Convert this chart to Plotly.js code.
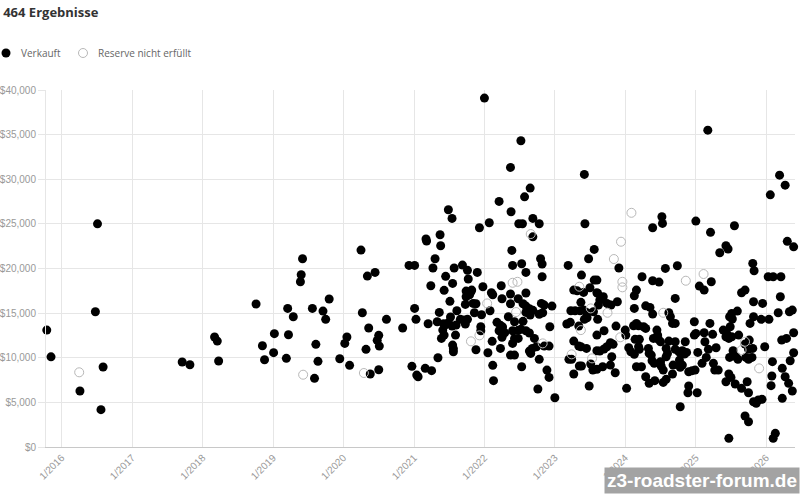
<!DOCTYPE html>
<html>
<head>
<meta charset="utf-8">
<script src="https://cdn.plot.ly/plotly-3.0.1.min.js"></script>
<style>html,body{margin:0;padding:0;background:#fff;}#chart{width:800px;height:494px;}</style>
</head>
<body>
<div id="chart"></div>
<script>
// Sale dates as decimal years, prices in USD
const soldYear = [
2015.79,2015.85,2016.26,2016.51,2016.48,2016.59,2016.56,2017.71,2017.82,2018.17,2018.21,2018.23,2018.76,2018.85,2018.88,
2019.02,2019.01,2019.19,2019.21,2019.29,2019.22,2019.42,2019.40,2019.39,2019.56,2019.61,2019.64,2019.59,2019.71,2019.75,2019.80,2019.95,
2020.02,2020.05,2020.09,2020.25,2020.27,2020.36,2020.32,2020.38,2020.34,2020.45,2020.50,2020.48,2020.51,2020.50,2020.61,2020.84,2020.93,
2021.01,2021.01,2021.03,2020.97,2021.04,2021.06,
2022.00,2022.21,2021.49,2021.54,2021.93,2022.07,2021.17,2021.18,2021.37,2021.38,2021.30,2021.27,2021.24,2021.45,2021.55,2021.43,2021.57,
2021.69,2021.76,2021.77,2021.90,2021.98,2022.10,2022.12,2022.24,2022.25,2021.51,2021.74,2021.81,2021.74,2021.79,2021.82,2021.73,2021.84,
2021.88,2022.08,2021.96,2021.95,2021.95,2021.86,2021.20,2021.36,2021.33,2021.42,2021.44,2021.49,2021.52,2021.61,2021.54,2021.60,2021.66,
2021.71,2021.76,2021.73,2021.41,2021.39,2021.43,2021.59,2021.55,2021.56,2021.56,2021.34,2021.16,2021.25,2021.88,2022.05,2022.11,2022.12,
2022.13,2022.23,2022.18,2022.23,2022.26,2022.21,2022.25,
2022.52,2022.37,2022.65,2022.57,2022.38,2022.69,2022.49,2022.54,2022.78,2022.69,2022.39,2022.40,2022.53,2022.59,2022.80,2022.82,2022.82,
2022.37,2022.59,2022.37,2022.48,2022.55,2022.59,2022.64,2022.69,2022.65,2022.59,2022.81,2022.85,2022.96,2022.83,2022.78,2022.34,2022.43,
2022.55,2022.29,2022.40,2022.48,2022.52,2022.59,2022.64,2022.43,2022.40,2022.48,2022.71,2022.74,2022.68,2022.64,2022.66,2022.93,2022.85,
2022.92,2022.37,2022.43,2022.53,2022.78,2022.89,2022.92,2022.76,2023.00,
2023.42,2023.43,2023.56,2023.48,2023.19,2023.38,2023.27,2023.32,2023.41,2023.50,2023.56,2023.60,2023.60,2023.37,2023.23,2023.29,2023.36,
2023.41,2023.46,2023.55,2023.42,2023.46,2023.17,2023.22,2023.34,2023.60,2023.27,2023.34,2023.37,2023.45,2023.60,2023.20,2023.24,2023.38,
2023.35,2023.51,2023.54,2023.27,2023.49,
2024.52,2024.53,2024.39,2025.00,2023.91,2024.57,2024.74,2024.24,2024.39,2024.48,2025.05,2024.16,2024.13,2024.71,2023.61,2023.69,2023.64,
2023.74,2023.80,2023.89,2023.62,2023.61,2024.13,2024.29,2024.35,2024.39,2024.62,2024.64,2024.67,2024.71,2024.98,2023.87,2024.12,2024.16,
2024.19,2024.26,2024.29,2024.00,2024.01,2023.70,2024.45,2024.46,2024.40,2024.47,2024.50,2024.14,2024.20,2024.62,2024.71,2024.85,2024.98,
2025.00,2023.79,2023.83,2023.74,2023.70,2024.05,2024.08,2024.13,2024.20,2024.19,2024.33,2024.34,2024.37,2024.58,2024.60,2024.58,2024.71,
2024.76,2024.81,2024.84,2024.87,2023.64,2023.81,2024.16,2024.23,2024.38,2024.41,2024.50,2024.51,2024.54,2024.68,2024.77,2024.78,2024.81,
2023.79,2023.68,2023.60,2023.86,2024.29,2024.34,2024.42,2024.54,2024.58,2024.67,2024.02,2024.90,2024.95,2024.99,2024.90,2024.89,2025.02,
2024.78,
2025.17,2026.19,2026.27,2026.06,2025.21,2025.55,2025.43,2025.46,2025.34,2026.30,2026.39,2025.81,2025.83,2026.03,2026.10,2026.21,2025.12,
2025.22,2025.65,2025.70,2026.20,2025.82,2025.95,2025.51,2025.59,2025.48,2025.52,2025.77,2025.82,2025.93,2026.04,2026.17,2026.33,2026.37,
2025.20,2025.12,2025.24,2025.39,2025.44,2025.49,2025.43,2025.47,2025.51,2025.61,2025.70,2025.76,2025.75,2025.13,2025.18,2025.29,2025.03,
2025.15,2025.09,2025.25,2025.27,2025.32,2025.48,2025.53,2025.57,2025.60,2025.71,2025.75,2025.80,2025.81,2025.98,2026.22,2026.29,2026.39,
2026.09,2026.34,2026.39,2026.08,2026.07,2026.23,2026.27,2026.32,2026.23,2026.37,2025.47,2025.50,2025.56,2025.65,2025.73,2025.75,2025.43,
2025.82,2025.89,2025.86,2025.94,2025.70,2025.75,2025.47,2026.13,2026.10
];
const soldPrice = [
13100,10100,6270,25000,15150,8960,4180,9520,9220,12320,11870,9630,16020,11350,9780,
12700,10570,9930,15530,14600,12580,21090,19300,18510,15530,11500,9600,7690,15230,14300,16580,9890,
11610,12320,9150,22060,15040,13330,10940,8180,19150,19560,12510,11950,11310,8660,14300,13330,20350,
20350,15530,14300,9040,8060,7870,
39090,27520,26580,25610,24570,25120,23300,23070,23780,22550,21090,20050,18070,19120,18330,17550,20050,
20380,19790,18820,19560,17960,17280,17060,18070,16610,16320,17470,17390,16830,17060,17580,15980,16090,
16050,15270,14820,13470,13030,15040,13810,15080,14030,13810,13660,13920,14560,15270,13550,13660,14300,
14220,14300,13780,13100,12170,12540,12540,11420,11010,10670,10000,8810,8550,10900,10560,11840,9150,
7430,11050,13970,13630,13440,13030,12290,
34310,31330,29010,28030,26360,25610,25010,25010,25010,23550,22030,20350,20530,19560,21090,20500,19070,
17140,17250,16050,16610,16050,15790,15490,15310,14780,15080,16090,15900,15790,15040,14860,14600,14030,
14080,12800,13030,13070,13180,13030,12770,12170,11610,12170,12170,11230,11050,10750,10490,13470,11310,
11310,10300,10300,8990,9820,8620,7800,6500,5520,
30540,25010,22140,21090,20350,19260,17580,17500,17320,17840,18700,18700,17280,16210,15270,15270,15270,
15340,15040,15150,14300,14480,13780,13970,13550,12540,11870,11310,11230,11050,10790,9820,9820,9070,
9070,9300,8620,8180,6830,
25800,25050,24570,25310,20050,20010,20310,19070,18630,18480,18030,17580,16950,16650,17210,16830,16460,
16090,15900,16270,15900,14300,15530,15820,15640,14890,15040,14600,13850,13850,14030,13550,13590,13850,
13590,13470,13290,13100,12540,13030,13100,12540,12170,12060,11790,12060,12060,11870,11790,11790,12540,
12730,11680,11500,11230,10980,11120,10670,10380,10940,11230,11050,10490,10300,11050,10490,10110,10940,
10670,10790,10420,10600,10750,10110,8990,8990,9670,9370,9560,9070,8620,9180,9740,8930,9180,
9180,8990,8700,8320,7870,7130,7430,7240,7580,8180,6570,8430,8550,8620,6830,6080,6080,
4510,
35500,30460,29340,28250,24050,24790,22550,22180,21760,23040,22430,20570,19750,19070,19070,19070,17580,
18510,17280,17580,16830,16270,16090,14970,15230,14600,14340,13850,14600,14300,14300,15040,15150,15340,
13850,12800,12620,13100,12730,13470,12350,12170,12350,12540,11530,11980,10940,11790,10940,11120,10600,
10040,9370,9370,8620,8620,10040,10790,10110,9820,10040,9820,10040,11050,11230,11980,12170,12800,
9560,9670,10560,7950,6870,8810,7870,7130,5450,6270,8180,7800,7060,6570,7310,6080,7310,
5070,5260,4890,5340,3470,2830,970,1530,970
];
// Reserve not met
const reserveYear = [2016.25,2019.43,2020.29,2022.04,2021.81,2021.93,2022.66,2022.40,2022.47,2022.45,2022.83,
2023.35,2023.51,2023.37,2023.24,2023.53,2024.09,2023.94,2023.84,2023.96,2023.96,2024.86,2023.75,2024.54,2023.93,
2025.11,2025.70,2025.65,2025.90];
const reservePrice = [8370,8100,8290,16090,11840,12510,23860,18400,18510,15120,11610,
17960,15530,13100,10380,9930,26240,23000,21060,18510,17890,18630,15040,15040,12290,
19380,11790,10860,8810];

const seriesNames = ['Verkauft', 'Reserve nicht erfüllt'];
const chartTitle = '464 Ergebnisse';
const xRangeYears = [2015.78, 2026.41];
const yRange = [0, 40000];

function toDate(y) {
  const yr = Math.floor(y);
  const a = Date.UTC(yr, 0, 1), b = Date.UTC(yr + 1, 0, 1);
  return new Date(a + (y - yr) * (b - a)).toISOString().slice(0, 10);
}

const font = 'Open Sans, Noto Sans, sans-serif';
const tickFontFamily = 'Liberation Sans, Arial, sans-serif';
const W = 800, H = 494, M = {l: 46, r: 5, t: 90, b: 47};
const plotW = W - M.l - M.r, plotH = H - M.t - M.b;
// pixel -> paper helpers (used only for the compact legend placement)
const px = v => (v - M.l) / plotW;
const py = v => (H - M.b - v) / plotH;

const soldStyle = {color: '#000', size: 9, line: {width: 0}};
const reserveStyle = {symbol: 'circle-open', color: '#b8b8b8', size: 9, line: {width: 1}};

const traces = [
  {
    type: 'scatter', mode: 'markers', name: seriesNames[0],
    x: soldYear.map(toDate), y: soldPrice,
    marker: soldStyle, cliponaxis: false, hoverinfo: 'x+y'
  },
  {
    type: 'scatter', mode: 'markers', name: seriesNames[1],
    x: reserveYear.map(toDate), y: reservePrice,
    marker: reserveStyle, cliponaxis: false, hoverinfo: 'x+y'
  }
];

// compact legend, drawn like the reference (symbol then label)
const legendY = 53;
const legendItems = [
  {sx: 6, tx: 19, fill: '#000', line: '#000', lw: 0, label: seriesNames[0]},
  {sx: 83, tx: 96, fill: 'rgba(0,0,0,0)', line: '#b8b8b8', lw: 1, label: seriesNames[1]}
];
const shapes = legendItems.map(it => ({
  type: 'circle', xref: 'paper', yref: 'paper',
  xsizemode: 'pixel', ysizemode: 'pixel',
  xanchor: px(it.sx), yanchor: py(legendY),
  x0: -4.5, x1: 4.5, y0: -4.5, y1: 4.5,
  fillcolor: it.fill, line: {color: it.line, width: it.lw}
}));
const legendAnn = legendItems.map(it => ({
  text: it.label, xref: 'paper', yref: 'paper',
  x: px(it.tx), xanchor: 'left', y: py(legendY), yanchor: 'middle',
  showarrow: false, font: {family: font, size: 10, color: '#666'}
}));

const layout = {
  width: W, height: H,
  margin: M,
  paper_bgcolor: '#fff', plot_bgcolor: '#fff',
  font: {family: font, color: '#666', size: 10},
  title: {
    text: '<b>' + chartTitle + '</b>',
    font: {family: font, size: 13, color: '#333'},
    xref: 'container', x: 0.004, xanchor: 'left',
    yref: 'container', y: 0.975, yanchor: 'middle'
  },
  showlegend: false,
  xaxis: {
    type: 'date', range: xRangeYears.map(toDate),
    tick0: '2016-01-01', dtick: 'M12', tickformat: '%-m/%Y',
    tickangle: -45, tickfont: {family: tickFontFamily, size: 10, color: '#999'},
    showgrid: true, gridcolor: '#e6e6e6', zeroline: false,
    showline: true, linecolor: '#c8c8c8', ticks: '', fixedrange: true
  },
  yaxis: {
    range: yRange, dtick: 5000, tickprefix: '$', tickformat: ',d',
    tickfont: {family: tickFontFamily, size: 10, color: '#999'},
    showgrid: true, gridcolor: '#e6e6e6', zeroline: false,
    showline: true, linecolor: '#e6e6e6',
    ticks: 'outside', ticklen: 7, tickcolor: '#e6e6e6', fixedrange: true
  },
  shapes: shapes,
  annotations: legendAnn.concat([{
    text: '<b>z3-roadster-forum.de</b>',
    xref: 'paper', x: 1.0067, xanchor: 'right',
    yref: 'paper', y: -0.095, yanchor: 'middle',
    showarrow: false, bgcolor: '#a3a3a3', borderpad: 2,
    font: {family: 'Liberation Sans, Arial, sans-serif', size: 19, color: '#fff'}
  }])
};

Plotly.newPlot('chart', traces, layout, {displayModeBar: false, staticPlot: true});
</script>
</body>
</html>
